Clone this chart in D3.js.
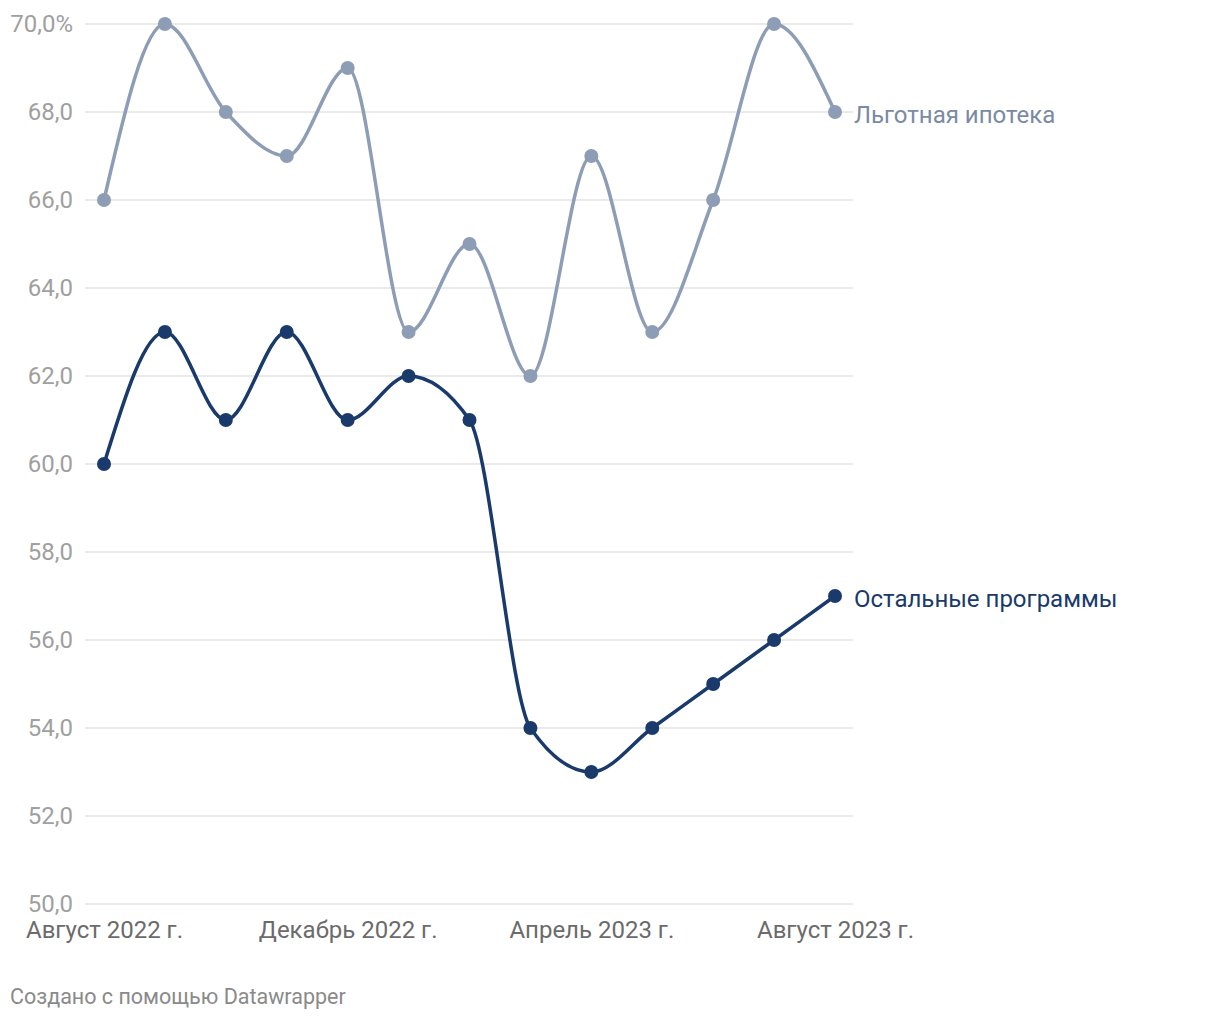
<!DOCTYPE html>
<html>
<head>
<meta charset="utf-8">
<script src="https://cdn.jsdelivr.net/npm/d3@7"></script>
<style>
  body { margin: 0; background: #fff; font-family: Roboto, "Noto Sans", sans-serif; }
  .yAxis path, .xAxis path, .xAxis line, .yAxis line { display: none; }
</style>
</head>
<body>
<div id="chart"></div>
<script>
// months (Aug 2022 .. Aug 2023)
var months = ["Август 2022 г.", "Сентябрь 2022 г.", "Октябрь 2022 г.", "Ноябрь 2022 г.",
  "Декабрь 2022 г.", "Январь 2023 г.", "Февраль 2023 г.", "Март 2023 г.",
  "Апрель 2023 г.", "Май 2023 г.", "Июнь 2023 г.", "Июль 2023 г.", "Август 2023 г."];
var xTicks = ["Август 2022 г.", "Декабрь 2022 г.", "Апрель 2023 г.", "Август 2023 г."];
var yTicks = [50, 52, 54, 56, 58, 60, 62, 64, 66, 68, 70];

var seriesNames = ["Льготная ипотека", "Остальные программы"];
var lgotnaya = [66, 70, 68, 67, 69, 63, 65, 62, 67, 63, 66, 70, 68];
var ostalnye = [60, 63, 61, 63, 61, 62, 61, 54, 53, 54, 55, 56, 57];

var width = 1220,
    height = 1020;

var svg = d3.select("#chart")
    .append("svg")
    .attr("width", width)
    .attr("height", height);

var xScale = d3.scalePoint()
    .domain(months)
    .range([104, 835]);

var yScale = d3.scaleLinear()
    .domain([50, 70])
    .range([904, 24]);

// gridlines
svg.append("g")
    .selectAll("line")
    .data(yTicks)
    .enter().append("line")
    .attr("x1", 85)
    .attr("x2", 853)
    .attr("y1", function(d) { return yScale(d) })
    .attr("y2", function(d) { return yScale(d) })
    .attr("stroke", "#e3e3e3")
    .attr("stroke-width", 1.5);

var yAxis = d3.axisLeft(yScale)
    .tickValues(yTicks)
    .tickSize(0)
    .tickPadding(0)
    .tickFormat(function(d) {
        var s = d.toFixed(1).replace(".", ",");
        return d === 70 ? s + "%" : s;
    });

svg.append("g")
    .attr("class", "yAxis")
    .attr("transform", "translate(73,0)")
    .call(yAxis)
    .selectAll("text")
    .attr("fill", "#a0a0a0")
    .style("font-size", "24px")
    .style("font-family", "Roboto");

var xAxis = d3.axisBottom(xScale)
    .tickValues(xTicks)
    .tickSize(0)
    .tickPadding(0);

svg.append("g")
    .attr("class", "xAxis")
    .attr("transform", "translate(0,921)")
    .call(xAxis)
    .selectAll("text")
    .attr("fill", "#6b6b6b")
    .style("font-size", "24px")
    .style("font-family", "Roboto");

var line = d3.line()
    .curve(d3.curveMonotoneX)
    .x(function(d, i) { return xScale(months[i]) })
    .y(function(d) { return yScale(d) });

var series = [
    { name: seriesNames[0], values: lgotnaya, color: "#8e9db6", label: "#7a8aa4" },
    { name: seriesNames[1], values: ostalnye, color: "#1a3a6b", label: "#1a3a6b" }
];

series.forEach(function(s) {
    svg.append("path")
        .attr("d", line(s.values))
        .attr("stroke", s.color)
        .attr("stroke-width", 3.5)
        .attr("fill", "none");

    svg.append("g")
        .selectAll("circle")
        .data(s.values)
        .enter().append("circle")
        .attr("cx", function(d, i) { return xScale(months[i]) })
        .attr("cy", function(d) { return yScale(d) })
        .attr("r", 7)
        .attr("fill", s.color);

    var last = s.values[s.values.length - 1];
    svg.append("text")
        .attr("x", 854)
        .attr("y", yScale(last) + 3)
        .attr("dy", "0.35em")
        .attr("fill", s.label)
        .style("font-size", "24px")
        .style("font-family", "Roboto")
        .text(s.name);
});

svg.append("text")
    .attr("x", 10)
    .attr("y", 1004)
    .attr("fill", "#8a8a8a")
    .style("font-size", "21.5px")
    .style("font-family", "Roboto")
    .text("Создано с помощью Datawrapper");
</script>
</body>
</html>
